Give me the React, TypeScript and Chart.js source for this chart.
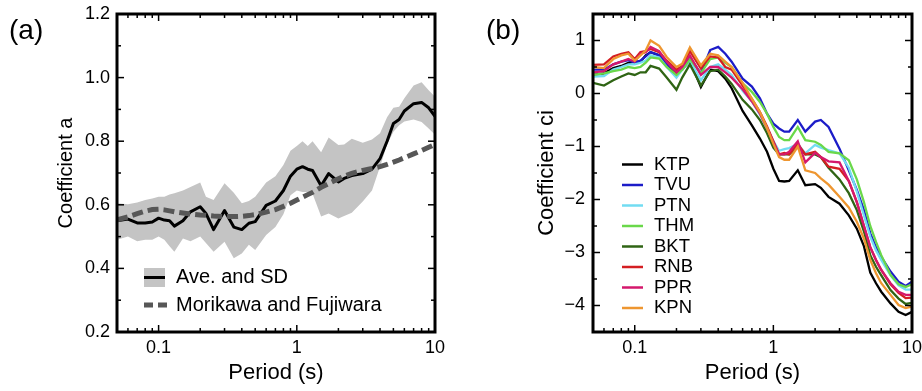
import React, { useEffect, useRef } from 'react';
import { Chart, registerables } from 'chart.js';
Chart.register(...registerables);

const FONT = "'Liberation Sans', Arial, Helvetica, sans-serif";

// ---------- shared period grid ----------
const periods = [0.05, 0.06, 0.07, 0.08, 0.09, 0.1, 0.11, 0.12, 0.13, 0.15, 0.17, 0.2, 0.22, 0.25, 0.3, 0.35, 0.4, 0.45, 0.5, 0.6, 0.7, 0.8, 0.9, 1.0, 1.1, 1.2, 1.3, 1.5, 1.7, 2.0, 2.2, 2.5, 3.0, 3.5, 4.0, 4.5, 5.0, 5.5, 6.0, 7.0, 8.0, 9.0, 10.0];

const xTickValues = [0.05, 0.06, 0.07, 0.08, 0.09, 0.1, 0.2, 0.3, 0.4, 0.5, 0.6, 0.7, 0.8, 0.9, 1, 2, 3, 4, 5, 6, 7, 8, 9, 10];
const xTickLabels = ['', '', '', '', '', '0.1', '', '', '', '', '', '', '', '', '1', '', '', '', '', '', '', '', '', '10'];

// ---------- panel (a) ----------
const aYTickValues = [0.2, 0.3, 0.4, 0.5, 0.6, 0.7, 0.8, 0.9, 1.0, 1.1, 1.2];
const aYTickLabels = ['0.2', '', '0.4', '', '0.6', '', '0.8', '', '1.0', '', '1.2'];

const aveA = [0.55, 0.555, 0.543, 0.543, 0.546, 0.558, 0.552, 0.55, 0.533, 0.55, 0.578, 0.594, 0.573, 0.522, 0.582, 0.53, 0.522, 0.542, 0.547, 0.598, 0.612, 0.645, 0.69, 0.712, 0.72, 0.712, 0.708, 0.66, 0.698, 0.672, 0.683, 0.692, 0.698, 0.712, 0.745, 0.8, 0.856, 0.868, 0.895, 0.918, 0.922, 0.905, 0.878];
const upperA = [0.605, 0.602, 0.607, 0.615, 0.62, 0.625, 0.625, 0.632, 0.636, 0.645, 0.656, 0.67, 0.625, 0.615, 0.668, 0.638, 0.605, 0.612, 0.625, 0.67, 0.69, 0.725, 0.77, 0.785, 0.8, 0.785, 0.8, 0.765, 0.812, 0.788, 0.79, 0.808, 0.795, 0.805, 0.825, 0.875, 0.905, 0.908, 0.935, 0.975, 0.985, 0.96, 0.94];
const lowerA = [0.49, 0.5, 0.485, 0.49, 0.49, 0.5, 0.49, 0.47, 0.452, 0.494, 0.485, 0.5, 0.48, 0.452, 0.484, 0.432, 0.447, 0.474, 0.458, 0.505, 0.53, 0.57, 0.63, 0.645, 0.64, 0.64, 0.635, 0.563, 0.573, 0.557, 0.565, 0.575, 0.61, 0.645, 0.72, 0.79, 0.83, 0.85, 0.862, 0.868, 0.86, 0.84, 0.82];
const morikawaA = [0.553, 0.562, 0.572, 0.58, 0.585, 0.586, 0.584, 0.581, 0.578, 0.574, 0.571, 0.568, 0.567, 0.565, 0.563, 0.563, 0.564, 0.566, 0.569, 0.577, 0.585, 0.595, 0.605, 0.615, 0.624, 0.632, 0.639, 0.655, 0.667, 0.682, 0.69, 0.699, 0.708, 0.714, 0.72, 0.727, 0.734, 0.741, 0.748, 0.76, 0.771, 0.781, 0.79];

// ---------- panel (b) ----------
const bYTickValues = [-4.5, -4, -3.5, -3, -2.5, -2, -1.5, -1, -0.5, 0, 0.5, 1, 1.5];
const bYTickLabels = ['', '\u22124', '', '\u22123', '', '\u22122', '', '\u22121', '', '0', '', '1', ''];

const stationNames = ['KTP', 'TVU', 'PTN', 'THM', 'BKT', 'RNB', 'PPR', 'KPN'];
const stationColors = ['#000000', '#1c1cc8', '#72dcf2', '#6ad84a', '#2f6414', '#d41e22', '#d4186c', '#ee9630'];

const ktp = [0.35, 0.38, 0.48, 0.52, 0.58, 0.6, 0.6, 0.72, 0.78, 0.72, 0.55, 0.38, 0.45, 0.62, 0.12, 0.45, 0.42, 0.28, 0.1, -0.33, -0.6, -0.85, -1.1, -1.42, -1.65, -1.66, -1.65, -1.45, -1.73, -1.71, -1.78, -1.95, -2.08, -2.3, -2.55, -2.88, -3.38, -3.58, -3.74, -3.96, -4.12, -4.18, -4.12];
const tvu = [0.45, 0.45, 0.55, 0.6, 0.63, 0.58, 0.62, 0.7, 0.78, 0.72, 0.55, 0.42, 0.5, 0.68, 0.38, 0.82, 0.88, 0.75, 0.6, 0.28, 0.13, -0.09, -0.38, -0.57, -0.66, -0.72, -0.72, -0.5, -0.72, -0.53, -0.5, -0.63, -1.04, -1.45, -1.82, -2.2, -2.64, -2.9, -3.08, -3.36, -3.55, -3.63, -3.55];
const ptn = [0.32, 0.33, 0.45, 0.5, 0.55, 0.55, 0.58, 0.62, 0.72, 0.68, 0.5, 0.3, 0.45, 0.62, 0.25, 0.5, 0.55, 0.45, 0.35, 0.05, -0.15, -0.4, -0.65, -0.9, -1.08, -1.05, -1.03, -0.95, -1.13, -0.97, -1.02, -1.07, -1.13, -1.4, -1.85, -2.3, -2.7, -2.96, -3.14, -3.43, -3.62, -3.7, -3.7];
const thm = [0.35, 0.38, 0.42, 0.45, 0.5, 0.48, 0.5, 0.58, 0.68, 0.66, 0.5, 0.35, 0.45, 0.65, 0.38, 0.65, 0.68, 0.58, 0.5, 0.19, 0.03, -0.16, -0.38, -0.63, -0.82, -0.88, -0.88, -0.63, -0.88, -0.91, -0.97, -1.1, -1.13, -1.26, -1.62, -2.05, -2.5, -2.8, -3.05, -3.42, -3.6, -3.65, -3.6];
const bkt = [0.2, 0.15, 0.25, 0.32, 0.38, 0.35, 0.4, 0.4, 0.52, 0.47, 0.3, 0.07, 0.3, 0.55, 0.15, 0.42, 0.45, 0.32, 0.18, -0.12, -0.3, -0.5, -0.75, -1.02, -1.15, -1.15, -1.15, -1.0, -1.15, -1.15, -1.2, -1.4, -1.62, -1.88, -2.2, -2.6, -3.05, -3.27, -3.43, -3.71, -3.87, -3.97, -3.95];
const rnb = [0.54, 0.55, 0.7, 0.75, 0.78, 0.65, 0.78, 0.8, 0.84, 0.78, 0.62, 0.45, 0.52, 0.8, 0.47, 0.7, 0.68, 0.5, 0.45, 0.15, -0.1, -0.35, -0.62, -0.9, -1.15, -1.12, -1.15, -0.95, -1.15, -1.1, -1.2, -1.38, -1.42, -1.65, -2.05, -2.5, -2.9, -3.14, -3.33, -3.6, -3.76, -3.86, -3.85];
const ppr = [0.4, 0.42, 0.55, 0.6, 0.65, 0.6, 0.75, 0.78, 0.88, 0.8, 0.6, 0.4, 0.5, 0.72, 0.35, 0.5, 0.5, 0.4, 0.3, 0.08, -0.15, -0.38, -0.65, -0.92, -1.15, -1.15, -1.1, -0.9, -1.3, -1.12, -1.2, -1.28, -1.3, -1.65, -2.05, -2.5, -2.9, -3.14, -3.33, -3.58, -3.74, -3.8, -3.8];
const kpn = [0.5, 0.48, 0.65, 0.72, 0.75, 0.62, 0.72, 0.81, 1.0, 0.9, 0.69, 0.5, 0.56, 0.87, 0.53, 0.75, 0.72, 0.6, 0.5, 0.2, -0.1, -0.35, -0.65, -0.95, -1.2, -1.25, -1.25, -1.0, -1.45, -1.5, -1.6, -1.72, -1.95, -2.15, -2.42, -2.74, -3.14, -3.39, -3.58, -3.8, -3.99, -4.05, -4.02];
const stationSeries = [ktp, tvu, ptn, thm, bkt, rnb, ppr, kpn];

// ---------- helpers ----------
const pts = (ys: number[]) => periods.map((p, i) => ({ x: p, y: ys[i] }));

const framePlugin = {
  id: 'frame',
  afterDraw(chart: any, _args: any, opts: any) {
    const { ctx, chartArea: a, scales } = chart;
    ctx.save();
    ctx.strokeStyle = '#000';
    ctx.lineWidth = 1.5;
    const line = (x1: number, y1: number, x2: number, y2: number) => {
      ctx.beginPath();
      ctx.moveTo(x1, y1);
      ctx.lineTo(x2, y2);
      ctx.stroke();
    };
    const xs = scales.x;
    const ys = scales.y;
    xs.ticks.forEach((t: any) => {
      const px = xs.getPixelForValue(t.value);
      if (px <= a.left + 2 || px >= a.right - 2) return;
      const len = t.label ? 7 : 4;
      line(px, a.bottom, px, a.bottom - len);
      line(px, a.top, px, a.top + len);
    });
    ys.ticks.forEach((t: any) => {
      const py = ys.getPixelForValue(t.value);
      if (py <= a.top + 2 || py >= a.bottom - 2) return;
      const len = t.label ? 7 : 4;
      line(a.left, py, a.left + len, py);
      line(a.right, py, a.right - len, py);
    });
    ctx.lineWidth = 3;
    ctx.strokeRect(a.left, a.top, a.right - a.left, a.bottom - a.top);

    // panel label
    ctx.fillStyle = '#000';
    ctx.font = `28px ${FONT}`;
    ctx.textAlign = 'left';
    ctx.textBaseline = 'middle';
    ctx.fillText(opts.panel, opts.panelX, 31);

    // legend
    const ds = chart.data.datasets;
    if (opts.legendType === 'a') {
      ctx.fillStyle = '#c4c4c4';
      ctx.fillRect(144, 268, 21, 19);
      ctx.strokeStyle = '#000';
      ctx.lineWidth = 3;
      line(144, 277.5, 165, 277.5);
      ctx.strokeStyle = ds[0].borderColor;
      ctx.lineWidth = 5;
      ctx.setLineDash([9, 5]);
      line(144, 305, 167, 305);
      ctx.setLineDash([]);
      ctx.fillStyle = '#000';
      ctx.font = `20px ${FONT}`;
      ctx.fillText(ds[1].label, 176, 277);
      ctx.fillText(ds[0].label, 176, 305);
    } else {
      ctx.font = `18.5px ${FONT}`;
      ds.forEach((d: any, i: number) => {
        const y = 164.5 + i * 20.5;
        ctx.strokeStyle = d.borderColor;
        ctx.lineWidth = 2.5;
        line(161, y, 182, y);
        ctx.fillStyle = '#000';
        ctx.fillText(d.label, 193, y);
      });
    }
    ctx.restore();
  },
};

function xScale() {
  return {
    type: 'logarithmic',
    position: 'bottom',
    min: 0.05,
    max: 10,
    grid: { display: false, drawTicks: false },
    border: { display: false },
    afterBuildTicks: (s: any) => {
      s.ticks = xTickValues.map((v) => ({ value: v }));
    },
    afterFit: (s: any) => {
      s.height = 59;
      s.paddingLeft = 0;
      s.paddingRight = 0;
    },
    ticks: {
      autoSkip: false,
      maxRotation: 0,
      padding: 5,
      color: '#000',
      font: { size: 18, family: FONT },
      callback: (_v: any, i: number) => xTickLabels[i],
    },
    title: {
      display: true,
      text: 'Period (s)',
      color: '#000',
      font: { size: 22, family: FONT },
      padding: { top: 0, bottom: 5 },
    },
  };
}

function yScale(min: number, max: number, vals: number[], labels: string[], width: number, title: string, titleSize: number, titlePad: number, tickPad: number) {
  return {
    type: 'linear',
    position: 'left',
    min,
    max,
    grid: { display: false, drawTicks: false },
    border: { display: false },
    afterBuildTicks: (s: any) => {
      s.ticks = vals.map((v) => ({ value: v }));
    },
    afterFit: (s: any) => {
      s.width = width;
      s.paddingTop = 0;
      s.paddingBottom = 0;
    },
    ticks: {
      autoSkip: false,
      padding: tickPad,
      color: '#000',
      font: { size: 18, family: FONT },
      callback: (_v: any, i: number) => labels[i],
    },
    title: {
      display: true,
      text: title,
      color: '#000',
      font: { size: titleSize, family: FONT },
      padding: { top: titlePad, bottom: 0 },
    },
  };
}

function configA(): any {
  return {
    type: 'line',
    data: {
      datasets: [
        {
          label: 'Morikawa and Fujiwara',
          data: pts(morikawaA),
          borderColor: '#575757',
          borderWidth: 5,
          borderDash: [11, 5],
          borderCapStyle: 'butt',
          pointRadius: 0,
          fill: false,
          tension: 0,
        },
        {
          label: 'Ave. and SD',
          data: pts(aveA),
          borderColor: '#000000',
          borderWidth: 3,
          borderJoinStyle: 'round',
          pointRadius: 0,
          fill: false,
          tension: 0,
        },
        {
          label: 'SD upper',
          data: pts(upperA),
          borderWidth: 0,
          borderColor: 'rgba(0,0,0,0)',
          backgroundColor: '#c4c4c4',
          pointRadius: 0,
          fill: '+1',
          tension: 0,
        },
        {
          label: 'SD lower',
          data: pts(lowerA),
          borderWidth: 0,
          borderColor: 'rgba(0,0,0,0)',
          pointRadius: 0,
          fill: false,
          tension: 0,
        },
      ],
    },
    options: {
      responsive: false,
      animation: false,
      devicePixelRatio: 1,
      events: [],
      layout: { padding: { top: 14, right: 26, left: 0, bottom: 0 } },
      scales: {
        x: xScale(),
        y: yScale(0.2, 1.2, aYTickValues, aYTickLabels, 117, 'Coefficient a', 20, 54, 7),
      },
      plugins: {
        legend: { display: false },
        tooltip: { enabled: false },
        frame: { panel: '(a)', panelX: 9, legendType: 'a' },
      },
    },
    plugins: [framePlugin],
  };
}

function configB(): any {
  return {
    type: 'line',
    data: {
      datasets: stationNames.map((name, i) => ({
        label: name,
        data: pts(stationSeries[i]),
        borderColor: stationColors[i],
        borderWidth: 2.3,
        pointRadius: 0,
        fill: false,
        tension: 0,
        order: stationNames.length - i,
      })),
    },
    options: {
      responsive: false,
      animation: false,
      devicePixelRatio: 1,
      events: [],
      layout: { padding: { top: 14, right: 10, left: 0, bottom: 0 } },
      scales: {
        x: xScale(),
        y: yScale(-4.5, 1.5, bYTickValues, bYTickLabels, 132, 'Coefficient ci', 22, 73, 8),
      },
      plugins: {
        legend: { display: false },
        tooltip: { enabled: false },
        frame: { panel: '(b)', panelX: 25, legendType: 'b' },
      },
    },
    plugins: [framePlugin],
  };
}

export default function App() {
  const refA = useRef<HTMLCanvasElement>(null);
  const refB = useRef<HTMLCanvasElement>(null);
  useEffect(() => {
    const a = new Chart(refA.current as HTMLCanvasElement, configA());
    const b = new Chart(refB.current as HTMLCanvasElement, configB());
    return () => {
      a.destroy();
      b.destroy();
    };
  }, []);
  return (
    <div style={{ position: 'absolute', left: 0, top: 0, width: 922, height: 391, background: '#fff' }}>
      <canvas ref={refA} width={461} height={391} style={{ position: 'absolute', left: 0, top: 0 }} />
      <canvas ref={refB} width={461} height={391} style={{ position: 'absolute', left: 461, top: 0 }} />
    </div>
  );
}
